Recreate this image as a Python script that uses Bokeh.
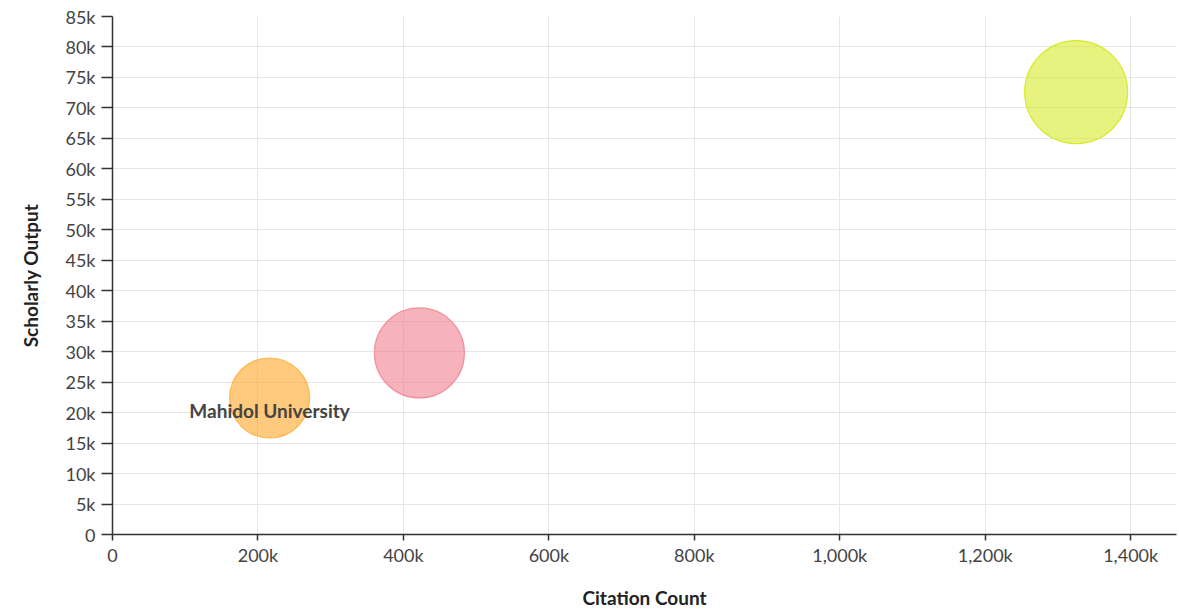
from bokeh.plotting import figure
from bokeh.models import ColumnDataSource, FixedTicker, Range1d, LabelSet
from bokeh.embed import file_html
from bokeh.resources import INLINE
from bokeh.core.properties import value

# ---- data ----
institutions = ["Institution A", "Institution B", "Mahidol University"]
citation_count = [1325000, 422000, 216000]
scholarly_output = [72600, 29800, 22400]
bubble_metric = [1.03, 0.90, 0.80]
labels = ["", "", "Mahidol University"]
fill_colors = ["#d9eb2a", "#f08090", "#ffa726"]
line_colors = ["#d4e81a", "#f08a98", "#ffb040"]

x_ticks = [0, 200000, 400000, 600000, 800000, 1000000, 1200000, 1400000]
x_tick_labels = ["0", "200k", "400k", "600k", "800k", "1,000k", "1,200k", "1,400k"]
y_ticks = [i * 5000 for i in range(18)]
y_tick_labels = ["0"] + [f"{i*5}k" for i in range(1, 18)]

FONT = "Lato"

src = ColumnDataSource(dict(
    x=citation_count, y=scholarly_output,
    size=[m * 100 for m in bubble_metric],
    label=labels, fill=fill_colors, line=line_colors,
))

p = figure(width=1179, height=613, output_backend="svg", toolbar_location=None,
           x_range=Range1d(0, 1463000), y_range=Range1d(0, 85000),
           min_border_left=112, min_border_right=3, min_border_top=16,
           min_border_bottom=79)
p.outline_line_color = None

p.scatter("x", "y", size="size", source=src, fill_color="fill", fill_alpha=0.6,
          line_color="line", line_alpha=0.9, line_width=1.2)

lbl = LabelSet(x="x", y="y", text="label", source=src, text_align="center",
               text_baseline="middle", y_offset=-13, text_font=value(FONT),
               text_font_style="bold", text_font_size="19px", text_color="#444444")
p.add_layout(lbl)

for ax in (p.xaxis[0], p.yaxis[0]):
    ax.axis_line_color = "#333333"
    ax.axis_line_width = 1.5
    ax.major_tick_line_color = "#333333"
    ax.major_tick_line_width = 1.5
    ax.major_tick_in = 0
    ax.minor_tick_line_color = None
    ax.major_label_text_font = FONT
    ax.major_label_text_font_size = "18px"
    ax.major_label_text_color = "#444444"
    ax.axis_label_text_font = FONT
    ax.axis_label_text_font_style = "bold"
    ax.axis_label_text_font_size = "19px"
    ax.axis_label_text_color = "#222222"

p.xaxis.major_tick_out = 6
p.yaxis.major_tick_out = 11
p.xaxis.ticker = FixedTicker(ticks=x_ticks)
p.xaxis.major_label_overrides = dict(zip(x_ticks, x_tick_labels))
p.yaxis.ticker = FixedTicker(ticks=y_ticks)
p.yaxis.major_label_overrides = dict(zip(y_ticks, y_tick_labels))
p.xaxis.axis_label = "Citation Count"
p.yaxis.axis_label = "Scholarly Output"
p.xaxis.axis_label_standoff = 17
p.yaxis.axis_label_standoff = 20
p.xaxis.major_label_standoff = 3
p.yaxis.major_label_standoff = 6

p.xgrid.grid_line_color = "#e6e6e6"
p.ygrid.grid_line_color = "#e6e6e6"
p.xgrid.ticker = FixedTicker(ticks=x_ticks)
p.ygrid.ticker = FixedTicker(ticks=y_ticks)

open("out.html", "w").write(file_html(p, INLINE))
